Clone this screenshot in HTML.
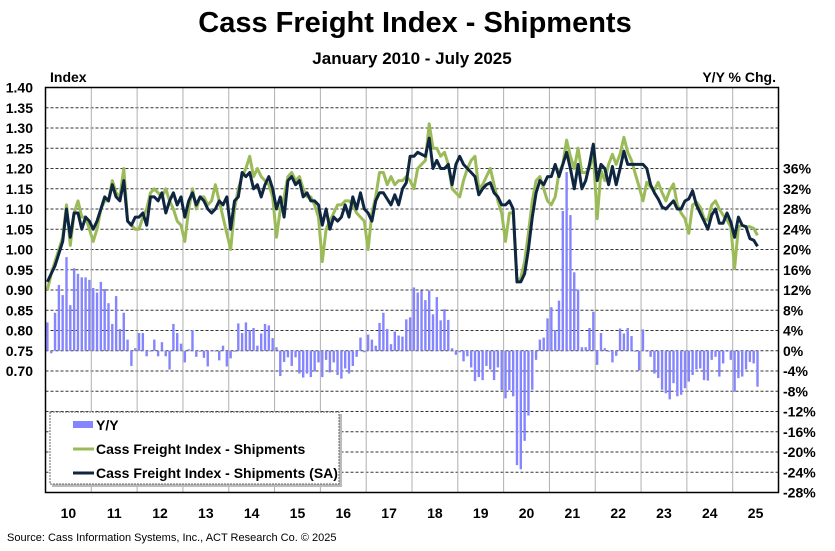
<!DOCTYPE html>
<html><head><meta charset="utf-8"><style>
html,body{margin:0;padding:0;background:#fff;}
svg{display:block;font-family:"Liberation Sans",Arial,sans-serif;}
</style></head><body>
<svg id="chart" width="835" height="551" viewBox="0 0 835 551" xmlns="http://www.w3.org/2000/svg">
<text x="415" y="32" text-anchor="middle" font-size="29" font-weight="bold">Cass Freight Index - Shipments</text>
<text x="412" y="64" text-anchor="middle" font-size="17" font-weight="bold">January 2010 - July 2025</text>
<text x="50" y="82" font-size="14" font-weight="bold">Index</text>
<text x="776" y="82" text-anchor="end" font-size="14" font-weight="bold">Y/Y % Chg.</text>
<g id="grid"></g><g id="bars"></g><g id="lines"></g><g id="axes"></g>
<g id="legend">
<rect x="52" y="414" width="290" height="73" fill="#bbb"/>
<rect x="50" y="412" width="289" height="72" fill="#fff" stroke="#666" stroke-width="1" stroke-dasharray="2,1"/>
<g><rect x="73" y="421" width="20" height="7" fill="#8585ff"/><text x="96" y="430" font-size="14" font-weight="bold">Y/Y</text></g>
<g><line x1="73" y1="449" x2="94" y2="449" stroke="#9bbb59" stroke-width="3"/><text x="96" y="454" font-size="14" font-weight="bold">Cass Freight Index - Shipments</text></g>
<g><line x1="73" y1="473" x2="94" y2="473" stroke="#0f2641" stroke-width="3"/><text x="96" y="478" font-size="14" font-weight="bold">Cass Freight Index - Shipments (SA)</text></g>
</g>
<text x="7" y="541" font-size="11">Source: Cass Information Systems, Inc., ACT Research Co. © 2025</text>
</svg>
<script>
const years=['10','11','12','13','14','15','16','17','18','19','20','21','22','23','24','25'];
const leftTicks=['1.40','1.35','1.30','1.25','1.20','1.15','1.10','1.05','1.00','0.95','0.90','0.85','0.80','0.75','0.70'];
const rightTicks=[36,32,28,24,20,16,12,8,4,0,-4,-8,-12,-16,-20,-24,-28];
const shipSA=[.92,.94,.96,.99,1.02,1.10,1.03,1.09,1.09,1.05,1.08,1.07,
1.05,1.07,1.10,1.13,1.12,1.16,1.13,1.12,1.17,1.07,1.06,1.08,
1.08,1.09,1.06,1.13,1.13,1.12,1.14,1.09,1.12,1.14,1.11,1.13,
1.08,1.12,1.14,1.11,1.13,1.12,1.10,1.09,1.10,1.12,1.11,1.13,
1.05,1.12,1.13,1.19,1.18,1.19,1.15,1.16,1.13,1.16,1.18,1.15,
1.10,1.13,1.08,1.17,1.18,1.16,1.17,1.13,1.14,1.12,1.12,1.11,
1.06,1.10,1.05,1.08,1.07,1.08,1.11,1.08,1.13,1.10,1.14,1.10,
1.09,1.07,1.12,1.14,1.14,1.125,1.11,1.135,1.11,1.15,1.165,1.23,
1.23,1.24,1.235,1.23,1.275,1.20,1.22,1.20,1.20,1.21,1.16,1.21,
1.23,1.21,1.20,1.19,1.18,1.135,1.15,1.16,1.165,1.14,1.13,1.11,
1.11,1.12,1.10,0.92,0.92,0.94,1.00,1.08,1.14,1.17,1.16,1.18,
1.18,1.21,1.18,1.21,1.24,1.20,1.15,1.21,1.15,1.17,1.21,1.26,
1.17,1.21,1.20,1.16,1.205,1.16,1.20,1.243,1.21,1.21,1.21,1.21,
1.21,1.20,1.16,1.14,1.125,1.105,1.10,1.11,1.12,1.10,1.10,1.12,
1.125,1.145,1.11,1.09,1.07,1.05,1.085,1.10,1.065,1.065,1.09,1.068,
1.03,1.08,1.06,1.056,1.027,1.023,1.008];
const ship=[.90,.94,.97,1.00,1.03,1.11,1.01,1.09,1.12,1.08,1.08,1.05,
1.02,1.05,1.10,1.12,1.12,1.17,1.14,1.13,1.20,1.07,1.06,1.05,
1.05,1.08,1.10,1.14,1.15,1.14,1.13,1.15,1.12,1.10,1.07,1.06,
1.02,1.10,1.15,1.10,1.13,1.13,1.11,1.12,1.16,1.12,1.08,1.04,
1.00,1.10,1.15,1.18,1.20,1.23,1.18,1.20,1.18,1.17,1.16,1.13,
1.03,1.10,1.13,1.18,1.19,1.17,1.18,1.15,1.13,1.13,1.11,1.08,
0.97,1.05,1.07,1.09,1.11,1.11,1.12,1.12,1.11,1.09,1.08,1.07,
1.00,1.09,1.13,1.19,1.19,1.16,1.18,1.16,1.17,1.17,1.18,1.17,
1.15,1.20,1.21,1.22,1.31,1.25,1.25,1.23,1.24,1.21,1.15,1.14,
1.13,1.17,1.20,1.22,1.23,1.15,1.16,1.18,1.20,1.16,1.12,1.09,
1.02,1.09,1.09,0.92,0.93,0.97,1.04,1.12,1.17,1.18,1.15,1.12,
1.11,1.13,1.19,1.21,1.27,1.23,1.20,1.25,1.19,1.19,1.20,1.24,
1.076,1.195,1.17,1.21,1.235,1.21,1.236,1.277,1.24,1.22,1.187,1.154,
1.12,1.166,1.154,1.147,1.166,1.14,1.12,1.146,1.162,1.11,1.09,1.076,
1.04,1.11,1.117,1.105,1.076,1.072,1.11,1.12,1.10,1.085,1.072,1.056,
0.953,1.056,1.06,1.056,1.056,1.052,1.035];
const yoy=[5.6,-0.5,7.5,13,11,18.5,9,16.3,15.2,14.5,14.5,14,
12.4,11.5,13.6,12.2,9.4,5.3,10.8,4.3,7.5,2.2,-3,0.5,
3.5,3.5,-1.1,0,2.2,-1.1,1.7,-1.1,-3.7,5.3,3.5,1.4,
-2.3,0.3,4.1,-1.2,-0.2,-1.4,-3.1,0,0,-1.9,1,-3.1,
-1.5,-0.2,5.4,3.5,5.6,4.1,4.5,1,3.4,5.3,5,2.5,
0.7,-5,-2.2,-1.3,-3,-1.3,-4.5,-5.3,-4.5,-5.2,-4.1,-2.3,
-5.2,-1.8,-4.3,-2.3,-4.8,-5.5,-3.5,-4.5,-3,-1.2,2.6,-0.3,
3.2,2.2,1,5.5,7.5,4.3,1.3,3.8,3,2.8,6.2,6.6,
12.5,11.5,11.9,10,11.9,7.2,10.6,6,8.2,6.1,0.5,-0.8,
-0.3,-2.1,-1.1,-3.3,-6,-5.2,-5.8,-3,-3.7,-5.8,-3.3,-7.8,
-9.4,-7.8,-9,-22.6,-23.4,-17.8,-12.8,-7.7,-1.8,2.2,2.6,6.4,
8.6,4.1,9.9,27.6,35.3,26.8,15.5,12.1,0.7,0.7,4.5,7.7,
-2.8,3.5,0.5,-0.2,-2.3,-1,4.4,3.4,4.5,2.9,-0.2,-3.9,
4.2,-0.2,-1.2,-4.5,-5.4,-7.7,-8.4,-9.6,-6.4,-9,-8.7,-7.4,
-6.1,-4.8,-3.7,-3.5,-5.8,-5.9,-1.8,-1.2,-5.1,-2.5,-0.2,-1.8,
-8.1,-5.4,-5.1,-3.7,-2.2,-2.5,-7.1];

const NS='http://www.w3.org/2000/svg';
const L=45.5,R=778.5,T=87.5,B=492.5,YW=(R-L)/16;
const xOf=i=>L+YW*(i+0.5)/12;
const yIdx=v=>T+(1.40-v)*405;
const yPct=p=>350.75-p*20.25/4;
function mk(tag,attrs,parent){const e=document.createElementNS(NS,tag);for(const k in attrs)e.setAttribute(k,attrs[k]);parent.appendChild(e);return e;}
const grid=document.getElementById('grid'),bars=document.getElementById('bars'),lines=document.getElementById('lines'),axes=document.getElementById('axes');
mk('rect',{x:L,y:T,width:R-L,height:B-T,fill:'#fff'},grid);
for(let k=1;k<20;k++){const y=T+k*20.25;const g=mk('line',{x1:L,x2:R,y1:y,y2:y,stroke:'#333','stroke-width':1,'stroke-dasharray':'3,2'},grid);

}
for(let k=1;k<16;k++){const x=L+k*YW;const g=mk('line',{x1:x,x2:x,y1:T,y2:B,stroke:'#b0b0b0','stroke-width':1},grid);

}
yoy.forEach((p,i)=>{const y0=yPct(0),y1=yPct(p);const r=mk('rect',{x:xOf(i)-1.2,y:Math.min(y0,y1),width:2.4,height:Math.max(0.8,Math.abs(y1-y0)),fill:'#8585ff'},bars);

});
function path(arr,color,name){const d=arr.map((v,i)=>(i?'L':'M')+xOf(i).toFixed(1)+','+yIdx(v).toFixed(1)).join('');const p=mk('path',{d:d,fill:'none',stroke:color,'stroke-width':3,'stroke-linejoin':'round'},lines);

}
path(ship,'#9bbb59','shipments-line');
path(shipSA,'#0f2641','shipments-sa-line');
const fr=mk('rect',{x:L,y:T,width:R-L,height:B-T,fill:'none',stroke:'#000','stroke-width':1.5},axes);


leftTicks.forEach((t,k)=>{const e=mk('text',{x:33,y:T+k*20.25+5,'text-anchor':'end','font-size':14,'font-weight':'bold'},axes);e.textContent=t;

});
rightTicks.forEach(t=>{const e=mk('text',{x:783,y:yPct(t)+5,'font-size':14,'font-weight':'bold'},axes);e.textContent=t+'%';

});
years.forEach((t,k)=>{const e=mk('text',{x:L+YW*(k+0.5),y:518,'text-anchor':'middle','font-size':14,'font-weight':'bold'},axes);e.textContent=t;

});
</script>
</body></html>
